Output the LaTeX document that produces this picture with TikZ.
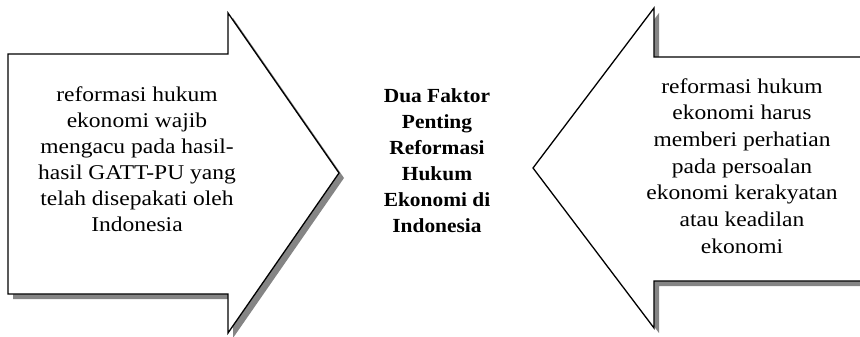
\documentclass[tikz,border=0pt]{standalone}
\usepackage{fontspec}
\setmainfont{Liberation Serif}[FakeStretch=1.12]
\newfontfamily\headfont{Liberation Serif}[FakeStretch=1.07]
\begin{document}
\begin{tikzpicture}[x=1pt,y=-1pt,
  blockarrow/.style={draw=black,line width=1.3pt,fill=white,line join=miter},
  arrowshadow/.style={fill=black!48,draw=none},
  sidetext/.style={align=center,inner sep=0pt,font=\fontsize{21}{26}\selectfont},
  midtext/.style={align=center,inner sep=0pt,font=\headfont\bfseries\fontsize{20}{26}\selectfont}]
\useasboundingbox (0,0) rectangle (860,337);
% right-pointing block arrow with drop shadow
\fill[arrowshadow,shift={(5,5)}] (8,54) -- (228,54) -- (228,13) -- (339,173) -- (228,333) -- (228,294) -- (8,294) -- cycle;
\draw[blockarrow] (8,54) -- (228,54) -- (228,13) -- (339,173) -- (228,333) -- (228,294) -- (8,294) -- cycle;
% left-pointing block arrow with drop shadow
\fill[arrowshadow,shift={(5,5)}] (880,57) -- (654,57) -- (654,8) -- (533,168) -- (654,328) -- (654,281) -- (880,281) -- cycle;
\draw[blockarrow] (880,57) -- (654,57) -- (654,8) -- (533,168) -- (654,328) -- (654,281) -- (880,281) -- cycle;
% labels
\node[sidetext] (left) at (137,159) {reformasi hukum\\ekonomi wajib\\mengacu pada hasil-\\hasil GATT-PU yang\\telah disepakati oleh\\Indonesia};
\node[sidetext,font=\fontsize{21}{26.7}\selectfont] (right) at (742,166) {reformasi hukum\\ekonomi harus\\memberi perhatian\\pada persoalan\\ekonomi kerakyatan\\atau keadilan\\ekonomi};
\node[midtext] (mid) at (437,161) {Dua Faktor\\Penting\\Reformasi\\Hukum\\Ekonomi di\\Indonesia};
\end{tikzpicture}
\end{document}
